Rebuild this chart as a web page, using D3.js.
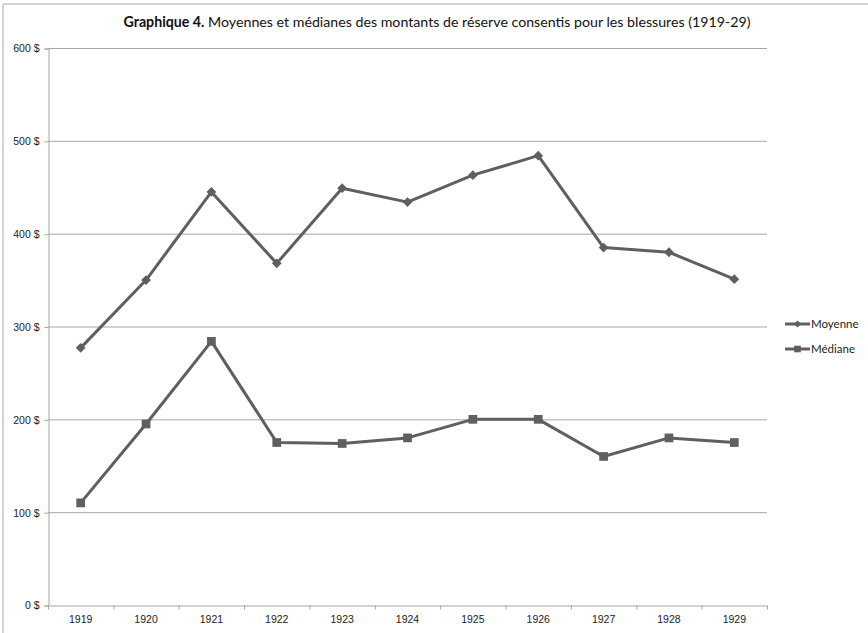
<!DOCTYPE html>
<html>
<head>
<meta charset="utf-8">
<script src="https://cdn.jsdelivr.net/npm/d3@7"></script>
<style>
  body { margin: 0; background: #fff; }
  svg { font-family: Lato, "Open Sans", sans-serif; }
</style>
</head>
<body>
<div id="chart"></div>
<script>
const years = ["1919", "1920", "1921", "1922", "1923", "1924", "1925", "1926", "1927", "1928", "1929"];
const moyenne = [277, 350, 445, 368, 449, 434, 463, 484, 385, 380, 351];
const mediane = [110, 195, 284, 175, 174, 180, 200, 200, 160, 180, 175];
const yTicks = [0, 100, 200, 300, 400, 500, 600];

const width = 868, height = 633;
const margin = { top: 48, right: 101, bottom: 28, left: 48 };

const svg = d3.select("#chart").append("svg")
    .attr("width", width)
    .attr("height", height);

// frame (top + left edges only visible)
svg.append("line").attr("x1", 3).attr("x2", width).attr("y1", 4).attr("y2", 4)
    .attr("stroke", "#c4c4c4").attr("stroke-width", 1.5);
svg.append("line").attr("x1", 3).attr("x2", 3).attr("y1", 4).attr("y2", height)
    .attr("stroke", "#c4c4c4").attr("stroke-width", 1.5);

const x = d3.scaleBand()
    .domain(years)
    .range([margin.left, width - margin.right]);

const y = d3.scaleLinear()
    .domain([0, 600])
    .range([height - margin.bottom, margin.top]);

// gridlines
svg.append("g")
    .selectAll("line")
    .data(yTicks.filter(d => d > 0))
    .join("line")
    .attr("x1", margin.left)
    .attr("x2", width - margin.right)
    .attr("y1", d => y(d) + 0.5)
    .attr("y2", d => y(d) + 0.5)
    .attr("stroke", "#a6a6a6")
    .attr("stroke-width", 1);

// y axis
const yAxis = svg.append("g")
    .attr("transform", `translate(${margin.left + 0.5},0.5)`)
    .call(d3.axisLeft(y).tickValues(yTicks).tickSize(4).tickPadding(5).tickFormat(d => d + " $"));
yAxis.select(".domain").attr("stroke", "#a6a6a6");
yAxis.selectAll(".tick line").attr("stroke", "#a6a6a6");
yAxis.selectAll("text").attr("font-size", 10.5).attr("fill", "#222");

// x axis
const xAxis = svg.append("g")
    .attr("transform", `translate(0,${y(0) + 0.5})`)
    .call(d3.axisBottom(x).tickSize(0).tickPadding(10));
xAxis.select(".domain").attr("stroke", "#a6a6a6");
xAxis.selectAll("text").attr("font-size", 10.5).attr("fill", "#222");
xAxis.selectAll(".boundary")
    .data(d3.range(years.length + 1))
    .join("line")
    .attr("class", "boundary")
    .attr("x1", i => margin.left + i * x.step() + 0.5)
    .attr("x2", i => margin.left + i * x.step() + 0.5)
    .attr("y1", 0).attr("y2", 4)
    .attr("stroke", "#a6a6a6");

const cx = d => x(d) + x.bandwidth() / 2;
const color = "#5f5f5f";

const line = d3.line()
    .x((d, i) => cx(years[i]))
    .y(d => y(d));

svg.append("path").datum(moyenne)
    .attr("fill", "none").attr("stroke", color).attr("stroke-width", 3)
    .attr("stroke-linejoin", "round").attr("d", line);
svg.append("path").datum(mediane)
    .attr("fill", "none").attr("stroke", color).attr("stroke-width", 3)
    .attr("stroke-linejoin", "round").attr("d", line);

svg.append("g").selectAll("path")
    .data(moyenne)
    .join("path")
    .attr("transform", (d, i) => `translate(${cx(years[i])},${y(d)}) rotate(45)`)
    .attr("d", d3.symbol().type(d3.symbolSquare).size(48))
    .attr("fill", color);

svg.append("g").selectAll("path")
    .data(mediane)
    .join("path")
    .attr("transform", (d, i) => `translate(${cx(years[i])},${y(d)})`)
    .attr("d", d3.symbol().type(d3.symbolSquare).size(76))
    .attr("fill", color);

// legend
const legend = svg.append("g").attr("transform", "translate(785,324)");
const items = [
    { name: "Moyenne", sym: d3.symbol().type(d3.symbolSquare).size(26), rot: 45 },
    { name: "Médiane", sym: d3.symbol().type(d3.symbolSquare).size(44), rot: 0 }
];
items.forEach((it, i) => {
    const g = legend.append("g").attr("transform", `translate(0,${i * 25})`);
    g.append("line").attr("x1", 0).attr("x2", 25).attr("y1", 0).attr("y2", 0)
        .attr("stroke", color).attr("stroke-width", 3);
    g.append("path").attr("d", it.sym).attr("fill", color)
        .attr("transform", `translate(12.5,0) rotate(${it.rot})`);
    g.append("text").attr("x", 26).attr("y", 0).attr("dy", "0.35em")
        .attr("font-size", 11.5).attr("fill", "#222").text(it.name);
});

// title
const title = svg.append("text")
    .attr("x", 437).attr("y", 27)
    .attr("text-anchor", "middle")
    .attr("font-size", 14.2)
    .attr("fill", "#111");
title.append("tspan").attr("font-weight", "bold").text("Graphique 4.");
title.append("tspan").text(" Moyennes et médianes des montants de réserve consentis pour les blessures (1919-29)");
</script>
</body>
</html>
